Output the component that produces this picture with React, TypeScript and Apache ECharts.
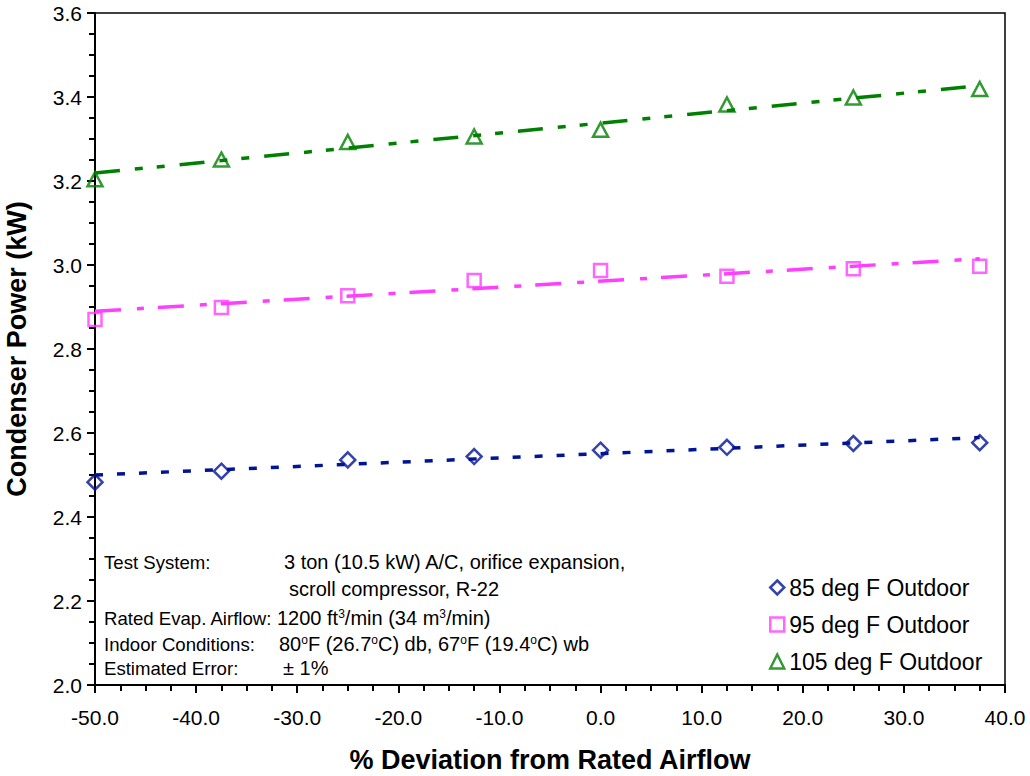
import React, { useEffect, useRef } from "react";
import * as echarts from "echarts";

const xValues = [-50, -37.5, -25, -12.5, 0, 12.5, 25, 37.5];
const power85 = [2.483, 2.509, 2.536, 2.544, 2.559, 2.566, 2.575, 2.577];
const power95 = [2.87, 2.899, 2.927, 2.963, 2.987, 2.973, 2.991, 2.997];
const power105 = [3.204, 3.251, 3.293, 3.306, 3.322, 3.382, 3.399, 3.419];

const trendX = [-50, 37.5];
const trend85 = [2.5, 2.589];
const trend95 = [2.89, 3.015];
const trend105 = [3.219, 3.427];

const seriesNames = ["85 deg F Outdoor", "95 deg F Outdoor", "105 deg F Outdoor"];
const xTitle = "% Deviation from Rated Airflow";
const yTitle = "Condenser Power (kW)";

const FONT = '"Liberation Sans", Arial, sans-serif';
const C85 = "#001496";
const C95 = "#FF3FFF";
const C105 = "#008000";

const pairs = (xs: number[], ys: number[]) => xs.map((x, i) => [x, ys[i]]);

export default function App() {
  const ref = useRef<HTMLDivElement>(null);
  useEffect(() => {
    if (!ref.current) return;
    const chart = echarts.init(ref.current, null, { renderer: "svg" });
    const sup = { fontSize: 12, verticalAlign: "top", fontFamily: FONT, color: "#000", lineHeight: 12 };
    const txt = (x: number, y: number, text: string, size: number) => ({
      type: "text",
      x,
      y,
      style: {
        text,
        fontFamily: FONT,
        fontSize: size,
        fill: "#000",
        verticalAlign: "middle",
        align: "left",
        rich: { s: sup },
      },
    });
    chart.setOption({
      animation: false,
      backgroundColor: "#fff",
      grid: {
        left: 95,
        right: 25,
        top: 13,
        bottom: 91,
        show: true,
        borderColor: "#000",
        borderWidth: 1.5,
        backgroundColor: "transparent",
      },
      xAxis: {
        type: "value",
        min: -50,
        max: 40,
        interval: 10,
        axisLine: { show: true, onZero: false, lineStyle: { color: "#000", width: 2 } },
        axisTick: { show: true, length: 8, lineStyle: { color: "#000", width: 2 } },
        minorTick: { show: true, splitNumber: 4, length: 6, lineStyle: { color: "#000", width: 2 } },
        splitLine: { show: false },
        axisLabel: {
          margin: 22,
          fontSize: 21,
          fontFamily: FONT,
          color: "#000",
          formatter: (v: number) => v.toFixed(1),
        },
      },
      yAxis: {
        type: "value",
        min: 2.0,
        max: 3.6,
        interval: 0.2,
        axisLine: { show: true, onZero: false, lineStyle: { color: "#000", width: 2 } },
        axisTick: { show: true, length: 8, lineStyle: { color: "#000", width: 2 } },
        minorTick: { show: true, splitNumber: 4, length: 6, lineStyle: { color: "#000", width: 2 } },
        splitLine: { show: false },
        axisLabel: {
          margin: 13,
          fontSize: 21,
          fontFamily: FONT,
          color: "#000",
          formatter: (v: number) => v.toFixed(1),
        },
      },
      legend: {
        orient: "vertical",
        left: 764,
        top: 571,
        itemWidth: 14,
        itemHeight: 14,
        itemGap: 14,
        textStyle: { fontSize: 23, fontFamily: FONT, color: "#000", lineHeight: 23 },
        data: [
          { name: seriesNames[0], icon: "diamond", itemStyle: { color: "rgba(0,0,0,0)", borderColor: C85, borderWidth: 2.5 } },
          { name: seriesNames[1], icon: "rect", itemStyle: { color: "rgba(0,0,0,0)", borderColor: C95, borderWidth: 2.5 } },
          { name: seriesNames[2], icon: "triangle", itemStyle: { color: "rgba(0,0,0,0)", borderColor: C105, borderWidth: 2.5 } },
        ],
      },
      series: [
        {
          name: "trend85",
          type: "line",
          data: pairs(trendX, trend85),
          showSymbol: false,
          symbol: "none",
          lineStyle: { color: C85, width: 3.5, type: [8, 14] },
          z: 2,
        },
        {
          name: "trend95",
          type: "line",
          data: pairs(trendX, trend95),
          showSymbol: false,
          symbol: "none",
          lineStyle: { color: C95, width: 3.5, type: [26, 16, 7, 14] },
          z: 2,
        },
        {
          name: "trend105",
          type: "line",
          data: pairs(trendX, trend105),
          showSymbol: false,
          symbol: "none",
          lineStyle: { color: C105, width: 3.5, type: [25, 15, 8, 14, 8, 15] },
          z: 2,
        },
        {
          name: seriesNames[0],
          type: "scatter",
          data: pairs(xValues, power85),
          symbol: "diamond",
          symbolSize: 15,
          itemStyle: { color: "rgba(0,0,0,0)", borderColor: C85, borderWidth: 2.5 },
          z: 3,
        },
        {
          name: seriesNames[1],
          type: "scatter",
          data: pairs(xValues, power95),
          symbol: "rect",
          symbolSize: 13,
          itemStyle: { color: "rgba(0,0,0,0)", borderColor: C95, borderWidth: 2.5 },
          z: 3,
        },
        {
          name: seriesNames[2],
          type: "scatter",
          data: pairs(xValues, power105),
          symbol: "triangle",
          symbolSize: [15, 14],
          itemStyle: { color: "rgba(0,0,0,0)", borderColor: C105, borderWidth: 2.5 },
          z: 3,
        },
      ],
      graphic: [
        {
          type: "text",
          x: 550,
          y: 760,
          style: {
            text: xTitle,
            fontFamily: FONT,
            fontSize: 27,
            fontWeight: "bold",
            fill: "#000",
            align: "center",
            verticalAlign: "middle",
          },
        },
        {
          type: "text",
          x: 17,
          y: 349,
          rotation: Math.PI / 2,
          style: {
            text: yTitle,
            fontFamily: FONT,
            fontSize: 27,
            fontWeight: "bold",
            fill: "#000",
            align: "center",
            verticalAlign: "middle",
          },
        },
        txt(104, 562, "Test System:", 18.6),
        txt(284, 562, "3 ton (10.5 kW) A/C, orifice expansion,", 20),
        txt(289, 589, "scroll compressor, R-22", 20),
        txt(104, 618, "Rated Evap. Airflow:", 18.6),
        txt(277, 618, "1200 ft{s|3}/min (34 m{s|3}/min)", 20),
        txt(104, 644, "Indoor Conditions:", 18.6),
        txt(279, 644, "80{s|o}F (26.7{s|o}C) db, 67{s|o}F (19.4{s|o}C) wb", 20),
        txt(104, 668, "Estimated Error:", 18.6),
        txt(283, 668, "± 1%", 20),
      ],
    });
    return () => chart.dispose();
  }, []);
  return (
    <div
      ref={ref}
      style={{ position: "fixed", left: 0, top: 0, width: 1030, height: 776, background: "#fff" }}
    />
  );
}
